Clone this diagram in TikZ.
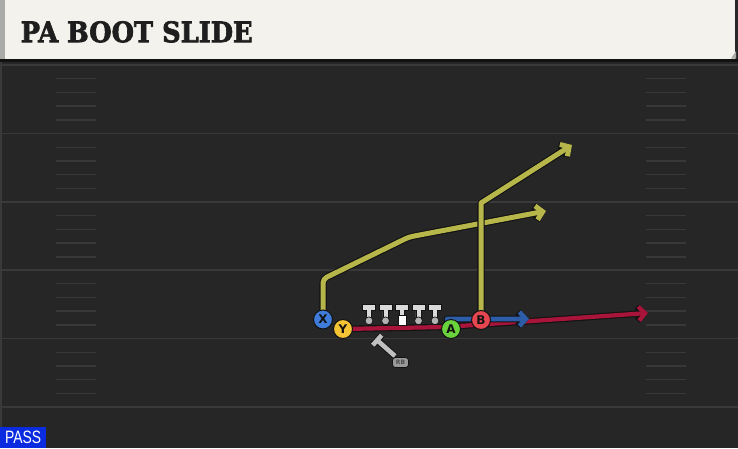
\documentclass[tikz,border=0pt]{standalone}
\usepackage{fontspec}
\usetikzlibrary{arrows.meta}
\newfontfamily\titlefont{DejaVu Serif}[BoldFeatures={FakeBold=2.5}]
\newfontfamily\uifont{Liberation Sans}
\newfontfamily\btnfont{DejaVu Sans}
\definecolor{fieldbg}{HTML}{262626}
\definecolor{yardc}{HTML}{393939}
\definecolor{hashc}{HTML}{383838}
\definecolor{headerbg}{HTML}{F4F2EC}
\definecolor{headergray}{HTML}{A9ABA8}
\definecolor{titleink}{HTML}{1E1E1E}
\definecolor{passblue}{HTML}{0A2BE0}
\definecolor{xblue}{HTML}{3F7BD9}
\definecolor{yyellow}{HTML}{F5C434}
\definecolor{agreen}{HTML}{6AD23C}
\definecolor{bred}{HTML}{E5464F}
\definecolor{ryellow}{HTML}{B6B64A}
\definecolor{rred}{HTML}{A8143A}
\definecolor{rblue}{HTML}{2D5CA8}
\definecolor{olc}{HTML}{121212}
\definecolor{linec}{HTML}{DADADA}
\definecolor{knobc}{HTML}{B4B4B4}
\pgfdeclarelayer{field}
\pgfdeclarelayer{routes}
\pgfsetlayers{field,routes,main}
\tikzset{
  yardline/.style={draw=yardc, line width=1.8pt},
  hashmark/.style={draw=hashc, line width=1.4pt},
  player/.style={circle, minimum size=19pt, inner sep=0pt, draw=olc, line width=1pt,
    font=\btnfont\bfseries\fontsize{12}{12}\selectfont, text=olc},
  route/.style={line width=#1, line join=round,
    -{Straight Barb[length=6.5pt,width=14pt]}},
  routeol/.style={draw=olc, line width=#1, line join=round,
    -{Straight Barb[length=6.5pt,width=14pt]}},
  tshape/.style={fill=linec, draw=olc, line width=0.7pt},
  knob/.style={fill=knobc, draw=olc, line width=0.7pt},
}
\begin{document}
\begin{tikzpicture}[x=1pt,y=-1pt]
\useasboundingbox (0,0) rectangle (738,448);
\begin{pgfonlayer}{field}
  \fill[fieldbg] (0,0) rectangle (738,448);
  \fill[yardc] (0,60) rectangle (2,448);
  \foreach \yy in {65,133.5,202,270,338.5,407} {
    \draw[yardline] (0,\yy) -- (738,\yy);
  }
  \foreach \yy in {65,133.5,202,270,338.5} {
    \foreach \k in {1,2,3,4} {
      \draw[hashmark] (56,{\yy+\k*13.7}) -- (96,{\yy+\k*13.7});
      \draw[hashmark] (646,{\yy+\k*13.7}) -- (686,{\yy+\k*13.7});
    }
  }
  % header
  \fill[headerbg] (0,0) rectangle (735,58.5);
  \fill[headergray] (0,0) rectangle (5,58.5);
  \fill[olc] (0,58.5) rectangle (738,62);
  \fill[headergray] (731,58.5) -- (736,58.5) -- (736,51) -- cycle;
\end{pgfonlayer}

\node[anchor=south west, inner sep=0pt, text=titleink] (title) at (20.5,42.8)
  {\resizebox{232pt}{21pt}{\titlefont\bfseries PA BOOT SLIDE}};

\node[fill=passblue, text=white, minimum width=46pt, minimum height=21pt, inner sep=0pt,
  anchor=south west] (pass) at (0,448) {\resizebox{36pt}{12.5pt}{\uifont PASS}};

% players
\node[player, fill=xblue] (X) at (323,319.5) {X};
\node[player, fill=yyellow] (Y) at (343,329) {Y};
\node[player, fill=agreen] (A) at (451,329) {A};
\node[player, fill=bred] (B) at (481,320) {B};

% route bend points and ends
\coordinate (x1) at (323,279);
\coordinate (x2) at (409,237);
\coordinate (xend) at (546,211);
\coordinate (b1) at (481,203);
\coordinate (bend) at (572,145);
\coordinate (y1) at (445,327);
\coordinate (yend) at (648,313);
\coordinate (a1) at (447,319);
\coordinate (aend) at (529,319);

\begin{pgfonlayer}{routes}
  % Y route (red)
  \draw[routeol=6.4pt] (Y.center) -- (y1) -- (yend);
  \draw[route=4.2pt, draw=rred] (Y.center) -- (y1) -- (yend);
  % A route (blue)
  \draw[routeol=6.8pt] (A.center) -- (a1) -- (aend);
  \draw[route=4.6pt, draw=rblue] (A.center) -- (a1) -- (aend);
  % X route (yellow)
  \draw[routeol=7.2pt, rounded corners=4pt] (X.center) -- (x1) -- (x2) -- (xend);
  \draw[route=5pt, draw=ryellow, rounded corners=4pt] (X.center) -- (x1) -- (x2) -- (xend);
  % B route (yellow)
  \draw[routeol=7.2pt] (B.center) -- (b1) -- (bend);
  \draw[route=5pt, draw=ryellow] (B.center) -- (b1) -- (bend);
\end{pgfonlayer}

% offensive line
\foreach \lx in {369,385.5,418.5,435} {
  \draw[tshape] (\lx-6.5,304.5) -- (\lx+6.5,304.5) -- (\lx+6.5,310) -- (\lx+2.6,310) -- (\lx+2.6,318)
    -- (\lx-2.6,318) -- (\lx-2.6,310) -- (\lx-6.5,310) -- cycle;
  \draw[knob] (\lx,320.8) circle (3.9pt);
}
\draw[tshape] (395.5,304.5) -- (408.5,304.5) -- (408.5,310) -- (404.6,310) -- (404.6,315.5)
  -- (399.4,315.5) -- (399.4,310) -- (395.5,310) -- cycle;
\draw[fill=white, draw=olc, line width=0.7pt] (398,315) rectangle (406,325);

% running back
\coordinate (rbtop) at (377.5,340.5);
\coordinate (rbbar1) at (372.8,345.2);
\coordinate (rbbar2) at (381.6,335.2);
\coordinate (rbfoot) at (395,356);
\draw[draw=olc, line width=6.4pt] (rbtop) -- (rbfoot);
\draw[draw=olc, line width=6.4pt] (rbbar1) -- (rbbar2);
\draw[draw=linec!88!black, line width=4.6pt] (rbtop) -- (rbfoot);
\draw[draw=linec!88!black, line width=4.6pt] (rbbar1) -- (rbbar2);
\node[fill=knobc!85!black, draw=olc, line width=0.7pt, rounded corners=3pt,
  minimum width=16pt, minimum height=10pt, inner sep=0pt, text=olc!75,
  font=\btnfont\bfseries\fontsize{6}{6}\selectfont] (rb) at (400.5,362.5) {RB};
\end{tikzpicture}
\end{document}
